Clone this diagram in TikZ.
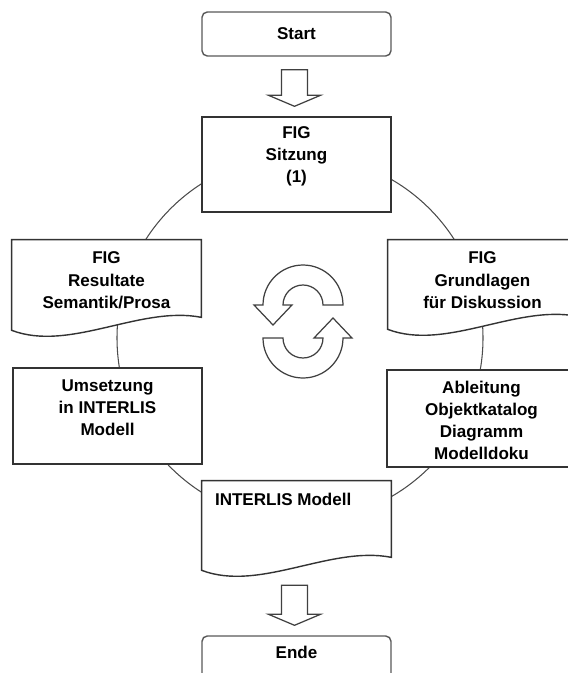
\documentclass[tikz,border=0pt]{standalone}
\usepackage{fontspec}
\setmainfont{Liberation Sans}
\usetikzlibrary{calc, positioning, backgrounds}

\begin{document}
\begin{tikzpicture}[x=0.02cm, y=-0.02cm]

%%% Definitionen der Styles
\tikzset{
  boxline/.style = {draw = black!80, line width = .8pt, fill = white},
  kasten/.style = {boxline, rectangle, minimum width = 3.78cm, inner sep = 0pt},
  endkasten/.style = {kasten, rounded corners = 3pt, draw = black!65, minimum height = .88cm},
  dokument/.style = {rectangle, minimum width = 3.78cm, inner sep = 0pt},
  txt/.style = {align = center, inner sep = 0pt, font = \fontsize{9.7}{12.6}\selectfont\bfseries},
  kreis/.style = {draw = black!70, line width = .6pt},
  blockpfeil/.style = {draw = black!75, line width = .7pt, fill = white, line join = miter},
  kreislauf/.style = {draw = black!75, line width = .7pt, fill = white}
}

%%% Beschnitt auf die BoundingBox 568 x 673
\clip (0,0) rectangle (568,673);

%%% Kreis im Hintergrund
\coordinate (mitte) at (300,338);
\draw[kreis] (mitte) circle[radius = 183];

%%% Start und Ende
\node[endkasten] (start) at (296.5,34) {};
\node[txt] (start-t) at (start.center) {Start};
\node[endkasten] (ende) at (296.5,658) {};
\node[txt, anchor = center] (ende-t) at ($(ende.north)+(0,17)$) {Ende};

%%% Rechteckige Kästen
\node[kasten, minimum height = 1.9cm] (sitz) at (296.5,164.5) {};
\node[kasten, minimum height = 1.92cm] (umset) at (107.5,416) {};
\node[kasten, minimum height = 1.94cm] (abl) at (481.5,418.5) {};

%%% Dokumente mit Wellenlinie
\node[dokument, minimum height = 1.8cm] (res) at (106.5,285) {};
\node[dokument, minimum height = 1.78cm] (grund) at (482.5,284.5) {};
\node[dokument, minimum height = 1.78cm] (model) at (296.5,525.5) {};
\foreach \n in {res, grund, model}
  \draw[boxline] (\n.north west) -- (\n.north east) -- ($(\n.south east)+(0,-13)$)
    .. controls ($(\n.south east)+(-61,-25)$) and ($(\n.south west)+(58,22)$) .. (\n.south west) -- cycle;

%%% Beschriftungen
\node[txt, anchor = north] (sitz-t) at ($(sitz.north)+(0,10)$) {FIG\\Sitzung\\(1)};
\node[txt, anchor = north] (res-t) at ($(res.north)+(0,12)$) {FIG\\Resultate\\Semantik/Prosa};
\node[txt, anchor = north] (grund-t) at ($(grund.north)+(0,12)$) {FIG\\Grundlagen\\für Diskussion};
\node[txt, anchor = north] (umset-t) at ($(umset.north)+(0,12)$) {Umsetzung\\in INTERLIS\\Modell};
\node[txt, anchor = north] (abl-t) at ($(abl.north)+(0,11)$) {Ableitung\\Objektkatalog\\Diagramm\\Modelldoku};
\node[txt, anchor = north west] (model-t) at ($(model.north west)+(13,12)$) {INTERLIS Modell};

%%% Blockpfeile
\foreach \a/\b/\o in {start/sitz/13, model/ende/15}
  \draw[blockpfeil] ($(\a.south)+(-15,\o)$) -- ($(\a.south)+(11,\o)$) -- ($(\b.north)+(11,-21)$)
    -- ($(\b.north)+(24,-21)$) -- ($(\b.north)+(-2,-10)$) -- ($(\b.north)+(-28,-21)$)
    -- ($(\b.north)+(-15,-21)$) -- cycle;

%%% Kreislauf-Symbol
\draw[kreislauf] (343,305) arc[start angle = 0, end angle = -180, radius = 40]
  -- (254,305) -- (273,325) -- (292,305) -- (283,305)
  arc[start angle = -180, end angle = 0, radius = 20] -- cycle;
\draw[kreislauf] (263,338) arc[start angle = 180, end angle = 0, radius = 40]
  -- (352,338) -- (333,318) -- (314,338) -- (323,338)
  arc[start angle = 0, end angle = 180, radius = 20] -- cycle;

\end{tikzpicture}
\end{document}
